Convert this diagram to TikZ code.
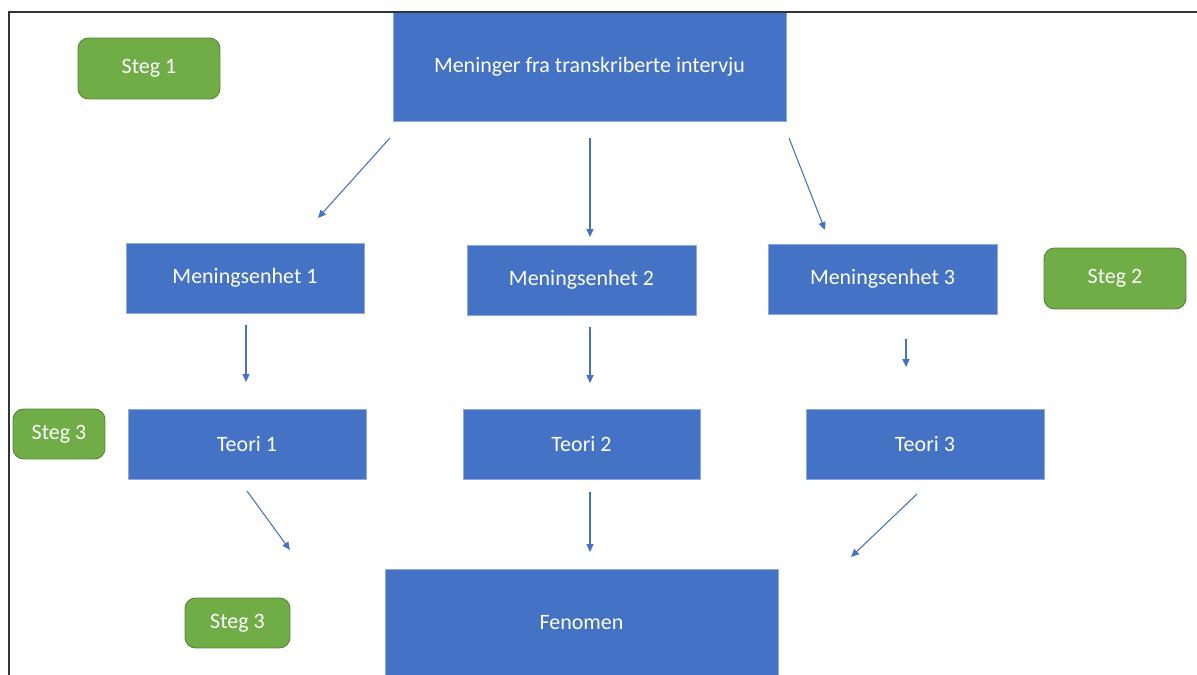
\documentclass[tikz,border=0pt]{standalone}
\usepackage{fontspec}
\setmainfont{Carlito}
\usetikzlibrary{arrows.meta, positioning}
\definecolor{officeblue}{HTML}{4472C4}
\definecolor{officegreen}{HTML}{70AD47}
\definecolor{greenedge}{HTML}{548235}

\tikzset{
  boks/.style={fill=officeblue, draw=officeblue!60!white, line width=0.4pt,
    text=white, inner sep=0pt, font=\fontsize{12.5}{15}\selectfont},
  stegboks/.style={fill=officegreen, draw=greenedge, line width=0.5pt,
    rounded corners=6pt, text=white, inner sep=0pt, font=\fontsize{12.5}{15}\selectfont},
  pil/.style={draw=officeblue, line width=0.6pt, -{Triangle[length=4.5pt, width=4pt]}}
}

\begin{document}
\begin{tikzpicture}[x=0.02cm, y=-0.02cm]
  \useasboundingbox (0,0) rectangle (1197,675);

  % top level
  \node[boks, minimum width=7.86cm, minimum height=2.18cm] (meninger) at (589.5, 66.5) {Meninger fra transkriberte intervju};
  \node[stegboks, minimum width=2.84cm, minimum height=1.22cm] (steg1) at (149, 68.5) {Steg 1};

  % meaning units
  \node[boks, minimum width=4.76cm, minimum height=1.4cm] (enhet1) at (245, 278) {Meningsenhet 1};
  \node[boks, minimum width=4.58cm, minimum height=1.4cm] (enhet2) at (581.5, 280) {Meningsenhet 2};
  \node[boks, minimum width=4.58cm, minimum height=1.4cm] (enhet3) at (882.5, 279) {Meningsenhet 3};
  \node[stegboks, minimum width=2.84cm, minimum height=1.22cm] (steg2) at (1115, 278.5) {Steg 2};

  % theory
  \node[stegboks, minimum width=1.84cm, minimum height=1.0cm] (steg3a) at (59, 434) {Steg 3};
  \node[boks, minimum width=4.76cm, minimum height=1.4cm] (teori1) at (247, 444) {Teori 1};
  \node[boks, minimum width=4.74cm, minimum height=1.4cm] (teori2) at (581.5, 444) {Teori 2};
  \node[boks, minimum width=4.76cm, minimum height=1.4cm] (teori3) at (925, 444) {Teori 3};

  % phenomenon
  \node[stegboks, minimum width=2.1cm, minimum height=1.0cm] (steg3b) at (237.5, 623) {Steg 3};
  \node[boks, minimum width=7.86cm, minimum height=2.16cm] (fenomen) at (581.5, 623) {Fenomen};

  % arrow end points
  \coordinate (a1) at (390, 138);  \coordinate (b1) at (318, 218);
  \coordinate (a2) at (590, 138);  \coordinate (b2) at (590, 237);
  \coordinate (a3) at (789, 138);  \coordinate (b3) at (825, 230);
  \coordinate (c1) at (246, 325);  \coordinate (d1) at (246, 382);
  \coordinate (c2) at (590, 327);  \coordinate (d2) at (590, 383);
  \coordinate (c3) at (906, 339);  \coordinate (d3) at (906, 367);
  \coordinate (e1) at (247, 491);  \coordinate (f1) at (290, 550);
  \coordinate (e2) at (590, 492);  \coordinate (f2) at (590, 552);
  \coordinate (e3) at (917, 494);  \coordinate (f3) at (851, 557);

  \draw[pil] (a1) -- (b1);
  \draw[pil] (a2) -- (b2);
  \draw[pil] (a3) -- (b3);
  \draw[pil] (c1) -- (d1);
  \draw[pil] (c2) -- (d2);
  \draw[pil] (c3) -- (d3);
  \draw[pil] (e1) -- (f1);
  \draw[pil] (e2) -- (f2);
  \draw[pil] (e3) -- (f3);

  % frame
  \draw[line width=0.9pt, draw=black!80] (9, 675) -- (9, 12) -- (1197, 12);
\end{tikzpicture}
\end{document}
